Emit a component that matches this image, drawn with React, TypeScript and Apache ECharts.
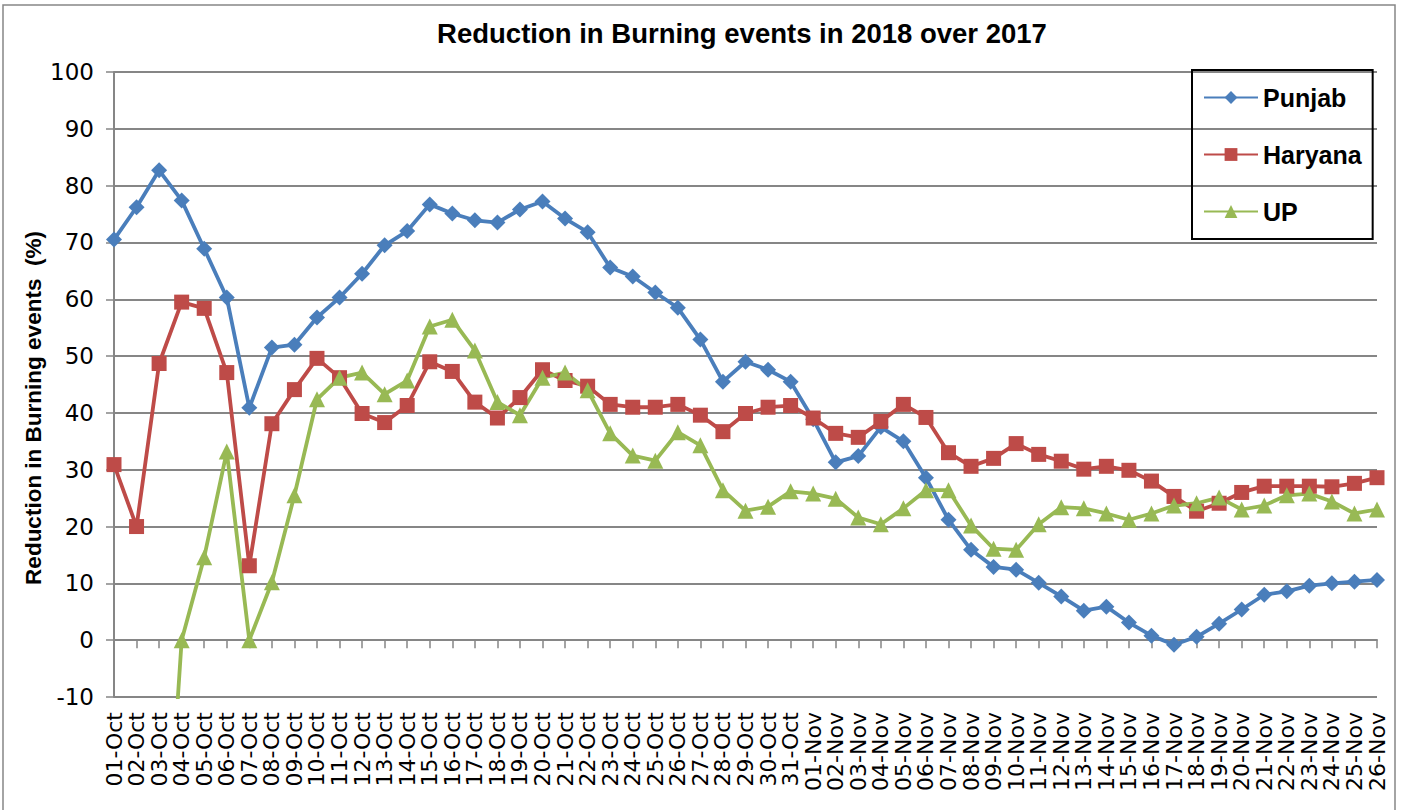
import React, { useEffect, useRef } from "react";
import * as echarts from "echarts";

const octDays = Array.from({ length: 31 }, (_, i) => String(i + 1).padStart(2, "0") + "-Oct");
const novDays = Array.from({ length: 26 }, (_, i) => String(i + 1).padStart(2, "0") + "-Nov");
const categories = [...octDays, ...novDays];

const yTicks = { min: -10, max: 100, interval: 10 };

const punjab = [
  70.5, 76.2, 82.7, 77.4, 68.9, 60.3, 40.9, 51.5, 52.0, 56.8,
  60.3, 64.5, 69.5, 72.0, 76.7, 75.1, 73.9, 73.5, 75.8, 77.2,
  74.2, 71.8, 65.6, 64.0, 61.2, 58.5, 52.9, 45.5, 49.0, 47.6,
  45.5, 38.9, 31.3, 32.4, 37.5, 35.0, 28.6, 21.2, 15.9, 12.9,
  12.4, 10.1, 7.7, 5.2, 5.9, 3.1, 0.8, -0.8, 0.6, 2.9,
  5.4, 8.0, 8.6, 9.6, 10.0, 10.3, 10.6,
];

const haryana = [
  30.9, 20.0, 48.7, 59.5, 58.4, 47.1, 13.1, 38.1, 44.1, 49.6,
  46.2, 39.9, 38.3, 41.3, 49.0, 47.3, 41.9, 39.1, 42.7, 47.6,
  45.7, 44.7, 41.5, 41.0, 41.0, 41.5, 39.6, 36.7, 39.9, 41.0,
  41.3, 39.1, 36.4, 35.7, 38.5, 41.5, 39.2, 33.0, 30.6, 32.0,
  34.6, 32.7, 31.5, 30.1, 30.6, 29.9, 28.0, 25.3, 22.7, 24.1,
  26.0, 27.1, 27.1, 27.1, 27.0, 27.6, 28.6,
];

const up = [
  null, null, -60, 0.0, 14.6, 33.2, 0.0, 10.2, 25.5, 42.4,
  46.2, 47.1, 43.3, 45.7, 55.2, 56.4, 51.0, 41.9, 39.6, 46.2,
  47.1, 44.0, 36.4, 32.5, 31.6, 36.6, 34.3, 26.4, 22.8, 23.5,
  26.2, 25.8, 24.9, 21.6, 20.4, 23.2, 26.4, 26.4, 20.2, 16.1,
  15.9, 20.4, 23.4, 23.2, 22.3, 21.2, 22.3, 23.7, 24.1, 25.1,
  23.0, 23.7, 25.5, 25.8, 24.4, 22.3, 23.0,
];

const seriesNames = ["Punjab", "Haryana", "UP"];
const titleText = "Reduction in Burning events in 2018 over 2017";
const yAxisTitle = "Reduction in Burning events  (%)";

export default function App() {
  const ref = useRef<HTMLDivElement>(null);

  useEffect(() => {
    if (!ref.current) return;
    const chart = echarts.init(ref.current, null, { renderer: "svg" });
    const gray = "#868686";
    const mk = (name: string, data: any[], color: string, symbol: string, size: number) => ({
      name,
      type: "line",
      data,
      xAxisIndex: 0,
      yAxisIndex: 0,
      symbol,
      symbolSize: size,
      showAllSymbol: true,
      clip: true,
      connectNulls: false,
      lineStyle: { color, width: 3.8 },
      itemStyle: { color },
    });
    chart.setOption({
      animation: false,
      backgroundColor: "#ffffff",
      title: {
        text: titleText,
        left: 737,
        top: 14,
        textAlign: "center",
        textStyle: {
          fontFamily: "Liberation Sans",
          fontWeight: "bold",
          fontSize: 27.5,
          color: "#000",
        },
      },
      legend: {
        orient: "vertical",
        left: 1192,
        top: 70,
        padding: [15, 11, 15, 11],
        itemGap: 32,
        itemWidth: 54,
        itemHeight: 16,
        borderColor: "#000",
        borderWidth: 2,
        data: seriesNames,
        textStyle: {
          fontFamily: "Liberation Sans",
          fontWeight: "bold",
          fontSize: 25,
          lineHeight: 25,
          color: "#000",
        },
      },
      grid: { left: 114, right: 28, top: 72, bottom: 113, containLabel: false },
      xAxis: [
        {
          type: "category",
          data: categories,
          boundaryGap: false,
          position: "bottom",
          axisLine: { show: true, onZero: true, lineStyle: { color: gray, width: 2 } },
          axisTick: { show: true, inside: false, length: 8, interval: 0, lineStyle: { color: gray, width: 1.5 } },
          axisLabel: { show: false },
          splitLine: { show: false },
        },
        {
          type: "category",
          data: categories,
          boundaryGap: false,
          position: "bottom",
          axisLine: { show: false, onZero: false },
          axisTick: { show: false },
          splitLine: { show: false },
          axisLabel: {
            show: true,
            interval: 0,
            rotate: 90,
            margin: 15,
            fontFamily: "DejaVu Sans",
            fontSize: 22,
            color: "#000",
          },
        },
      ],
      yAxis: {
        type: "value",
        min: yTicks.min,
        max: yTicks.max,
        interval: yTicks.interval,
        axisLine: { show: true, onZero: false, lineStyle: { color: gray, width: 2 } },
        axisTick: { show: true, inside: false, length: 8, lineStyle: { color: gray, width: 1.5 } },
        splitLine: { show: true, lineStyle: { color: gray, width: 1.8 } },
        axisLabel: {
          margin: 20,
          fontFamily: "DejaVu Sans",
          fontSize: 23,
          color: "#000",
        },
      },
      graphic: [
        {
          type: "text",
          x: 33,
          y: 408,
          rotation: Math.PI / 2,
          style: {
            text: yAxisTitle,
            fontFamily: "Liberation Sans",
            fontWeight: "bold",
            fontSize: 22.5,
            fill: "#000",
            textAlign: "center",
            textVerticalAlign: "middle",
          },
        },
        {
          type: "rect",
          shape: { x: 3, y: 5, width: 1392, height: 815 },
          style: { fill: "none", stroke: gray, lineWidth: 1.5 },
          silent: true,
        },
      ],
      series: [
        mk(seriesNames[0], punjab, "#4A7EBB", "diamond", 16),
        mk(seriesNames[1], haryana, "#BE4B48", "rect", 15),
        mk(seriesNames[2], up, "#98B954", "triangle", 16),
      ],
    });
    return () => chart.dispose();
  }, []);

  return (
    <div
      ref={ref}
      style={{ position: "fixed", left: 0, top: 0, width: 1405, height: 810, background: "#fff" }}
    />
  );
}
